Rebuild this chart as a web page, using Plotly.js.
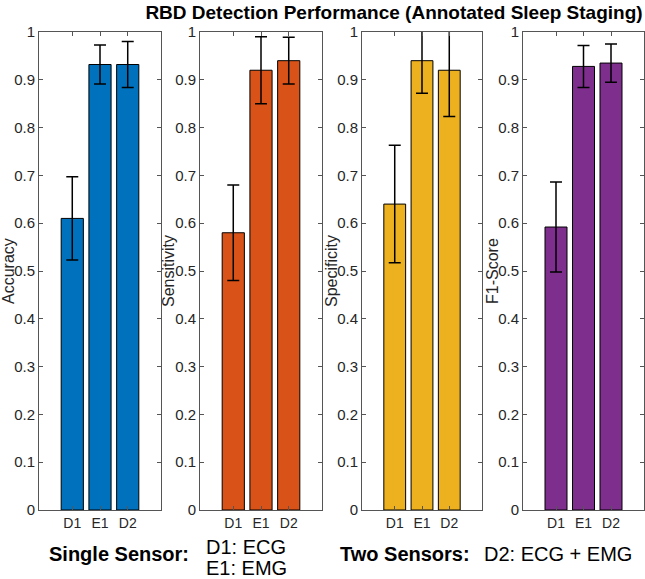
<!DOCTYPE html>
<html>
<head>
<meta charset="utf-8">
<script src="https://cdn.plot.ly/plotly-3.0.1.min.js"></script>
<style>html,body{margin:0;padding:0;background:#fff;}#chart{width:645px;height:579px;}</style>
</head>
<body>
<div id="chart"></div>
<script>
// ---- data ----
var categories = ["D1", "E1", "D2"];
var metrics = ["Accuracy", "Sensitivity", "Specificity", "F1-Score"];
var accuracy = [0.61, 0.932, 0.932];
var accuracyErr = [0.087, 0.041, 0.048];
var sensitivity = [0.58, 0.92, 0.94];
var sensitivityErr = [0.10, 0.07, 0.049];
var specificity = [0.64, 0.94, 0.92];
var specificityErr = [0.123, 0.068, 0.097];
var f1score = [0.592, 0.928, 0.935];
var f1scoreErr = [0.094, 0.044, 0.04];
var yTickVals = [0, 0.1, 0.2, 0.3, 0.4, 0.5, 0.6, 0.7, 0.8, 0.9, 1];
var yTickText = ["0", "0.1", "0.2", "0.3", "0.4", "0.5", "0.6", "0.7", "0.8", "0.9", "1"];

// ---- style ----
var W = 645, H = 579;
var colors = ["#0072BD", "#D95319", "#EDB120", "#7E2F8E"];
var panelX = [[39, 161], [200, 322], [362, 482], [523, 644]];
var yTopPx = 32, yBotPx = 510;
var ylabelX = [8, 168, 331, 492];
var series = [accuracy, sensitivity, specificity, f1score];
var errs = [accuracyErr, sensitivityErr, specificityErr, f1scoreErr];
var font = "Liberation Sans, Arial, Helvetica, sans-serif";
var axisColor = "#555555";
var xpos = categories.map(function (c, i) { return i + 1; });

var traces = [];
var layout = {
  width: W, height: H,
  margin: {l: 0, r: 0, t: 0, b: 0},
  paper_bgcolor: "#fff", plot_bgcolor: "#fff",
  showlegend: false,
  font: {family: font, color: "#262626", size: 14},
  title: {
    text: "<b>RBD Detection Performance (Annotated Sleep Staging)</b>",
    font: {family: font, size: 19, color: "#000"},
    x: 394 / W, xanchor: "center", xref: "paper",
    y: 1 - 12 / H, yanchor: "middle", yref: "container"
  },
  annotations: []
};

for (var k = 0; k < 4; k++) {
  var sx = k === 0 ? "" : String(k + 1);
  traces.push({
    type: "bar",
    x: xpos,
    y: series[k],
    width: 0.8,
    xaxis: "x" + sx,
    yaxis: "y" + sx,
    marker: {color: colors[k], line: {color: "#000", width: 1}},
    error_y: {type: "data", array: errs[k], visible: true, color: "#000", thickness: 1.5, width: 6},
    hoverinfo: "none"
  });
  layout["xaxis" + sx] = {
    domain: [panelX[k][0] / W, panelX[k][1] / W],
    anchor: "y" + sx,
    range: [-0.2, 4.2],
    tickvals: xpos,
    ticktext: categories,
    ticks: "inside", ticklen: 4, tickcolor: axisColor, tickwidth: 1,
    showline: true, linecolor: axisColor, linewidth: 1, mirror: "ticks",
    showgrid: false, zeroline: false,
    tickfont: {family: font, size: 14, color: "#262626"},
    fixedrange: true
  };
  layout["yaxis" + sx] = {
    domain: [1 - yBotPx / H, 1 - yTopPx / H],
    anchor: "x" + sx,
    range: [0, 1],
    tickvals: yTickVals,
    ticktext: yTickText,
    ticks: "inside", ticklen: 4, tickcolor: axisColor, tickwidth: 1,
    showline: true, linecolor: axisColor, linewidth: 1, mirror: "ticks",
    showgrid: false, zeroline: false,
    tickfont: {family: font, size: 15, color: "#262626"},
    fixedrange: true
  };
  layout.annotations.push({
    text: metrics[k], textangle: -90,
    xref: "paper", yref: "paper",
    x: ylabelX[k] / W, y: 1 - ((yTopPx + yBotPx) / 2) / H,
    xanchor: "center", yanchor: "middle", showarrow: false,
    font: {family: font, size: 16, color: "#262626"}
  });
}

function note(txt, xpx, ypx, bold, anchor) {
  layout.annotations.push({
    text: bold ? "<b>" + txt + "</b>" : txt,
    xref: "paper", yref: "paper",
    x: xpx / W, y: 1 - ypx / H,
    xanchor: anchor || "left", yanchor: "middle", showarrow: false,
    font: {family: font, size: 20, color: "#000"}
  });
}
note("Single Sensor:", 47, 554, true);
note("D1: ECG", 204, 547, false);
note("E1: EMG", 204, 568, false);
note("Two Sensors:", 338, 554, true);
note("D2: ECG + EMG", 482, 554, false);

Plotly.newPlot("chart", traces, layout, {staticPlot: true, displayModeBar: false});
</script>
</body>
</html>
